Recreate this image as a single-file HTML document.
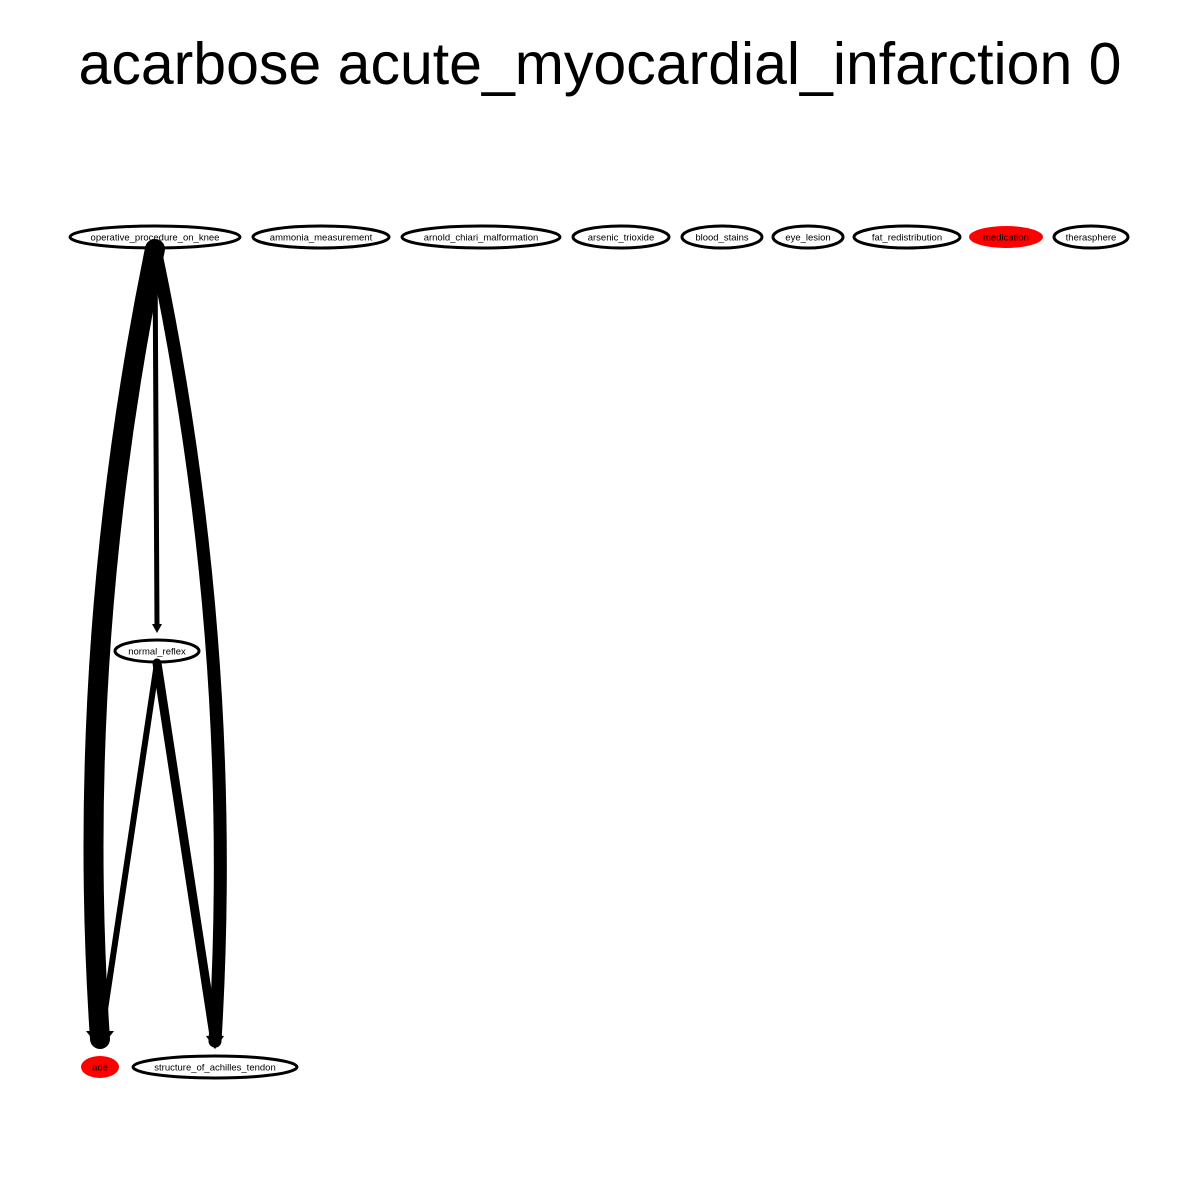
<!DOCTYPE html>
<html><head><meta charset="utf-8"><style>
body{margin:0;background:#fff}
svg{display:block;font-family:"Liberation Sans",sans-serif}
</style></head><body>
<svg width="1200" height="1200" viewBox="0 0 1200 1200">
<rect width="1200" height="1200" fill="#fff"/>
<text x="600" y="84" text-anchor="middle" font-size="59">acarbose acute_myocardial_infarction 0</text>
<g id="edges"></g>
<g id="nodes"></g>
</svg>
<script>
const nodeNames=["operative_procedure_on_knee","ammonia_measurement","arnold_chiari_malformation","arsenic_trioxide","blood_stains","eye_lesion","fat_redistribution","medication","therasphere","normal_reflex","ade","structure_of_achilles_tendon"];
const nodeX=[155,321,481,621,722,808,907,1006,1091,157,100,215];
const nodeY=[237,237,237,237,237,237,237,237,237,651,1067,1067];
const nodeRx=[85,68,79,48,40,35,53,37,37,42,19,82];
const nodeRed=[0,0,0,0,0,0,0,1,0,0,1,0];
const edgeFrom=[0,0,0,9,9];
const edgeTo=[10,11,9,10,11];
const edgeWeight=[20,13,5,6,9];
const edgeBend=[-54,54,0,0,0];
const NS="http://www.w3.org/2000/svg";
const eg=document.getElementById('edges'),ng=document.getElementById('nodes');
for(let i=0;i<edgeFrom.length;i++){
  const a=edgeFrom[i],b=edgeTo[i];
  const x1=nodeX[a],y1=nodeY[a]+12,x2=nodeX[b],y2=nodeY[b]-22;
  const cx=(x1+x2)/2+edgeBend[i],cy=(y1+y2)/2;
  const w=edgeWeight[i];
  const p=document.createElementNS(NS,'path');
  p.setAttribute('d',`M${x1},${y1} Q${cx},${cy} ${x2},${y2-w*0.3}`);
  p.setAttribute('stroke','#000');p.setAttribute('stroke-width',w);
  p.setAttribute('fill','none');p.setAttribute('stroke-linecap','round');
  
  
  eg.appendChild(p);
  const h=document.createElementNS(NS,'polygon');
  const hw=Math.max(w*0.7,5);
  h.setAttribute('points',`${x2-hw},${y2-hw} ${x2+hw},${y2-hw} ${x2},${y2+4}`);
  h.setAttribute('fill','#000');
  
  
  eg.appendChild(h);
}
for(let i=0;i<nodeNames.length;i++){
  const g=document.createElementNS(NS,'g');
  
  
  const e=document.createElementNS(NS,'ellipse');
  e.setAttribute('cx',nodeX[i]);e.setAttribute('cy',nodeY[i]);
  e.setAttribute('rx',nodeRx[i]);e.setAttribute('ry',11);
  if(nodeRed[i]){e.setAttribute('fill','#f00');}
  else{e.setAttribute('fill','#fff');e.setAttribute('stroke','#000');e.setAttribute('stroke-width',3);}
  g.appendChild(e);
  const t=document.createElementNS(NS,'text');
  t.setAttribute('x',nodeX[i]);t.setAttribute('y',nodeY[i]+3.5);
  t.setAttribute('text-anchor','middle');t.setAttribute('font-size','9.5');
  t.textContent=nodeNames[i];
  g.appendChild(t);
  ng.appendChild(g);
}
document.querySelector('svg').appendChild(eg);
</script>
</body></html>
